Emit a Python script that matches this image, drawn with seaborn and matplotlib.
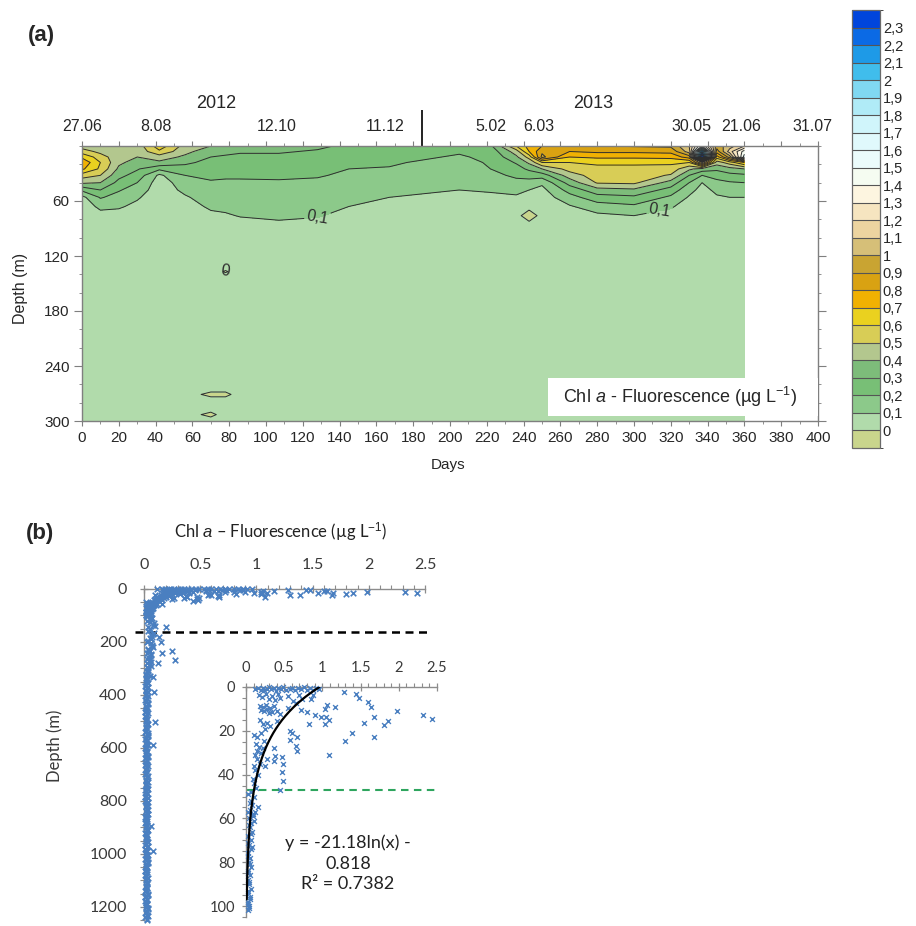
import numpy as np
import pandas as pd
import matplotlib
matplotlib.use("Agg")
import matplotlib.pyplot as plt
from matplotlib.colors import ListedColormap, BoundaryNorm
from matplotlib.ticker import MultipleLocator, FixedLocator, FuncFormatter
from matplotlib.patches import Rectangle
import seaborn as sns

sns.set_style("ticks")
plt.rcParams["font.family"] = ["Liberation Sans", "DejaVu Sans"]
plt.rcParams["mathtext.fontset"] = "custom"
plt.rcParams["mathtext.rm"] = "Liberation Sans"
plt.rcParams["mathtext.it"] = "Liberation Sans:italic"

# ---------------- (a) time-depth section of Chl a fluorescence ----------------
section_days = [0, 10, 20, 30, 42, 56, 70, 78, 86, 107, 128, 145, 167, 186,
                205, 222, 236, 243, 250, 265, 280, 300, 320, 330, 337, 345, 352, 360]
upper_depths = [0, 6, 12, 18, 25, 32, 40, 48, 56, 66, 76, 86, 100]
# one profile (µg L-1 at upper_depths) per sampling day
upper_profiles = [
    [0.45, 0.55, 0.68, 0.78, 0.72, 0.55, 0.42, 0.22, 0.07, 0.05, 0.05, 0.05, 0.05],
    [0.43, 0.47, 0.55, 0.60, 0.58, 0.50, 0.40, 0.30, 0.21, 0.12, 0.07, 0.05, 0.05],
    [0.42, 0.42, 0.43, 0.42, 0.38, 0.33, 0.27, 0.21, 0.16, 0.11, 0.07, 0.05, 0.05],
    [0.44, 0.43, 0.40, 0.36, 0.31, 0.26, 0.20, 0.15, 0.11, 0.08, 0.05, 0.05, 0.05],
    [0.66, 0.58, 0.45, 0.38, 0.22, 0.08, 0.05, 0.05, 0.05, 0.05, 0.05, 0.05, 0.05],
    [0.46, 0.43, 0.38, 0.32, 0.26, 0.20, 0.15, 0.12, 0.09, 0.06, 0.05, 0.05, 0.05],
    [0.40, 0.34, 0.30, 0.27, 0.24, 0.22, 0.19, 0.16, 0.14, 0.115, 0.08, 0.05, 0.05],
    [0.37, 0.32, 0.29, 0.26, 0.23, 0.21, 0.19, 0.17, 0.15, 0.12, 0.09, 0.05, 0.05],
    [0.35, 0.31, 0.28, 0.25, 0.23, 0.21, 0.19, 0.17, 0.15, 0.13, 0.105, 0.07, 0.05],
    [0.33, 0.31, 0.28, 0.25, 0.23, 0.215, 0.19, 0.17, 0.15, 0.13, 0.11, 0.09, 0.05],
    [0.32, 0.29, 0.26, 0.24, 0.22, 0.21, 0.18, 0.16, 0.14, 0.12, 0.105, 0.08, 0.05],
    [0.28, 0.26, 0.24, 0.22, 0.20, 0.18, 0.16, 0.14, 0.12, 0.10, 0.08, 0.06, 0.05],
    [0.26, 0.25, 0.23, 0.21, 0.195, 0.17, 0.15, 0.13, 0.10, 0.07, 0.05, 0.05, 0.05],
    [0.25, 0.23, 0.21, 0.19, 0.17, 0.15, 0.13, 0.11, 0.09, 0.07, 0.05, 0.05, 0.05],
    [0.23, 0.21, 0.19, 0.17, 0.16, 0.14, 0.12, 0.10, 0.08, 0.06, 0.05, 0.05, 0.05],
    [0.28, 0.24, 0.22, 0.21, 0.20, 0.17, 0.14, 0.11, 0.08, 0.06, 0.05, 0.05, 0.05],
    [0.60, 0.45, 0.38, 0.31, 0.26, 0.22, 0.17, 0.12, 0.09, 0.06, 0.05, 0.05, 0.05],
    [0.74, 0.70, 0.54, 0.42, 0.32, 0.24, 0.16, 0.10, 0.07, 0.05, -0.08, 0.05, 0.05],
    [0.80, 0.88, 0.93, 0.60, 0.40, 0.25, 0.12, 0.07, 0.05, 0.05, 0.05, 0.05, 0.05],
    [0.88, 0.80, 0.70, 0.60, 0.54, 0.45, 0.34, 0.24, 0.16, 0.09, 0.05, 0.05, 0.05],
    [0.90, 0.82, 0.72, 0.62, 0.57, 0.55, 0.51, 0.36, 0.26, 0.15, 0.08, 0.05, 0.05],
    [0.91, 0.82, 0.72, 0.62, 0.57, 0.55, 0.52, 0.38, 0.28, 0.18, 0.10, 0.06, 0.05],
    [0.92, 0.83, 0.73, 0.62, 0.56, 0.49, 0.36, 0.26, 0.18, 0.11, 0.07, 0.05, 0.05],
    [1.10, 1.05, 0.85, 0.60, 0.42, 0.30, 0.20, 0.13, 0.09, 0.06, 0.05, 0.05, 0.05],
    [1.50, 2.10, 2.45, 1.00, 0.36, 0.20, 0.10, 0.07, 0.05, 0.05, 0.05, 0.05, 0.05],
    [0.95, 0.85, 0.65, 0.45, 0.32, 0.24, 0.17, 0.12, 0.09, 0.06, 0.05, 0.05, 0.05],
    [1.05, 1.15, 0.95, 0.55, 0.36, 0.27, 0.19, 0.13, 0.10, 0.07, 0.05, 0.05, 0.05],
    [1.20, 1.45, 1.55, 0.70, 0.40, 0.28, 0.20, 0.14, 0.10, 0.07, 0.05, 0.05, 0.05],
]
deep_depths = [130, 137, 144, 200, 264, 271, 278, 286, 293, 300]
deep_background = 0.05
# (day, depth, value) of the small negative patches below the mixed layer
deep_patches = [(78, 137, -0.01), (70, 271, -0.03), (78, 271, -0.03), (70, 293, -0.03)]

contour_levels = [0.0, 0.1, 0.2, 0.3, 0.4, 0.5, 0.6, 0.7, 0.8, 0.9, 1.0, 1.1,
                  1.2, 1.3, 1.4, 1.5, 1.6, 1.7, 1.8, 1.9, 2.0, 2.1, 2.2, 2.3]
level_colors = ["#c9d58c", "#b1dbab", "#8cc98a", "#78bf76", "#7dbc7a", "#b3c78e",
                "#d8cd56", "#ead11f", "#f1b102", "#d9a212", "#c9a432", "#d6bf78",
                "#ecd4a0", "#f6e5c0", "#fdf5e0", "#f5fcf1", "#ebfbfb", "#e0f9fc",
                "#d0f5fb", "#b0ebf7", "#80d8f2", "#40bdec", "#1e9ae7", "#0b6ae5",
                "#0045dc"]

date_labels = ["27.06", "8.08", "12.10", "11.12", "5.02", "6.03", "30.05", "21.06", "31.07"]
date_label_days = [0, 40, 106, 165, 222, 248, 331, 358, 397]
year_labels = ["2012", "2013"]
year_label_days = [73, 278]
year_break_day = 185

# ---------------- (b) fluorescence vs depth scatter ----------------
shallow_chl = [
    0.12, 0.16, 0.19, 0.22, 0.24, 0.27, 0.30, 0.33, 0.36, 0.39, 0.42, 0.46, 0.49,
    0.53, 0.57, 0.60, 0.64, 0.68, 0.72, 0.76, 0.80, 0.84, 0.88, 0.92, 0.96,
    0.17, 0.21, 0.26, 0.30, 0.34, 0.38, 0.42, 0.45, 0.55, 0.69, 0.73, 0.85, 0.88,
    1.28, 1.44, 1.48, 0.62,
    0.18, 0.20, 0.22, 0.24, 0.26, 0.28, 0.30, 0.32, 0.34, 0.36, 0.40, 0.44, 0.55,
    0.66, 0.72, 0.80, 1.04, 1.06, 1.16, 0.98, 1.05, 1.60, 1.63, 1.68, 1.98, 2.32,
    2.43, 0.90,
    0.18, 0.22, 0.25, 0.20, 0.28, 0.15, 0.10, 0.32, 0.23, 0.58, 0.60, 0.57, 0.67,
    0.82, 1.04, 1.09, 1.55, 1.80, 1.86, 1.67, 1.39, 1.30, 0.40,
    0.13, 0.17, 0.15, 0.20, 0.12, 0.14, 0.18, 0.10, 0.12, 0.16, 0.09, 0.11, 0.13,
    0.25, 0.27, 0.36, 0.38, 0.37, 0.66, 0.67, 0.47, 0.49, 0.47, 0.48, 0.44, 1.08,
    0.22,
    0.07, 0.10, 0.06, 0.08, 0.16, 0.05, 0.09, 0.04, 0.07, 0.05, 0.08, 0.03, 0.06,
    0.04, 0.07, 0.03, 0.05, 0.04, 0.06, 0.03, 0.05, 0.02, 0.04, 0.06, 0.03, 0.05,
    0.02, 0.04, 0.03, 0.12, 0.11,
    0.02, 0.05, 0.03, 0.09, 0.04, 0.06, 0.02, 0.08, 0.03, 0.05, 0.02, 0.04, 0.03,
    0.05, 0.02, 0.04,
]
shallow_depth = [
    1.0, 0.5, 1.2, 0.3, 1.5, 0.8, 0.2, 1.1, 0.6, 1.6, 0.4, 1.0, 0.2,
    1.3, 0.7, 0.3, 1.4, 0.5, 1.0, 0.2, 1.2, 0.6, 1.5, 0.4, 1.0,
    3.5, 4.5, 3.0, 5.5, 4.0, 6.0, 3.2, 5.0, 4.2, 3.6, 5.6, 5.4, 3.5,
    2.4, 3.4, 4.8, 6.5,
    8.5, 10.5, 9.0, 11.0, 8.0, 10.0, 12.0, 9.5, 11.5, 8.8, 10.8, 12.5, 9.4,
    7.5, 10.5, 11.5, 10.0, 8.0, 9.2, 13.5, 13.5, 7.0, 9.0, 13.5, 10.9, 12.9,
    14.7, 12.8,
    15.0, 17.0, 19.0, 21.0, 16.5, 23.0, 22.0, 18.0, 24.5, 20.0, 21.0, 24.0, 23.0,
    17.0, 17.0, 15.0, 16.4, 17.5, 15.3, 22.7, 21.0, 24.5, 15.5,
    26, 27.5, 29, 30, 31, 33, 35, 36, 38, 40, 42, 44, 46,
    36, 33, 34, 31.6, 28, 27, 29, 32, 35, 39, 43, 47, 31.2,
    28,
    48, 50, 52, 54, 55, 56, 58, 60, 62, 64, 66, 68, 70,
    72, 74, 76, 78, 80, 82, 84, 86, 88, 90, 92, 94, 96,
    98, 100, 102, 57, 61,
    49, 53, 57, 59, 63, 67, 71, 73, 77, 81, 85, 89, 93,
    97, 99, 101,
]
# four deep casts below 100 m
deep_depth_a = [110, 130, 150, 170, 190, 210, 230, 250, 270, 290, 310, 330, 350, 370,
                390, 410, 430, 450, 470, 490, 510, 530, 550, 570, 590, 610, 630, 650,
                670, 690, 710, 730, 750, 770, 790, 810, 830, 850, 870, 890, 910, 930,
                950, 970, 990, 1010, 1030, 1050, 1070, 1090, 1110, 1130, 1150, 1170,
                1190, 1210, 1230, 1250]
deep_chl_a = [0.07, 0.09, 0.05, 0.08, 0.06, 0.07, 0.04, 0.06, 0.05, 0.06,
              0.04, 0.05, 0.03, 0.04, 0.04, 0.03, 0.04, 0.03, 0.04, 0.03,
              0.04, 0.03, 0.04, 0.03, 0.04, 0.03, 0.04, 0.03, 0.04, 0.03,
              0.03, 0.04, 0.03, 0.03, 0.04, 0.03, 0.03, 0.04, 0.03, 0.03,
              0.04, 0.03, 0.03, 0.04, 0.03, 0.03, 0.04, 0.03, 0.03, 0.04,
              0.03, 0.03, 0.04, 0.03, 0.03, 0.04, 0.03, 0.03]
deep_depth_b = [120, 140, 160, 180, 200, 220, 240, 260, 280, 300, 320, 340, 360, 380,
                400, 420, 440, 460, 480, 500, 520, 540, 560, 580, 600, 620, 640, 660,
                680, 700, 720, 740, 760, 780, 800, 820, 840, 860, 880, 900, 920, 940,
                960, 980, 1000, 1020, 1040, 1060, 1080, 1100, 1120, 1140, 1160, 1180,
                1200, 1220, 1240]
deep_chl_b = [0.03, 0.10, 0.04, 0.07, 0.03, 0.08, 0.03, 0.05, 0.03, 0.04,
              0.02, 0.03, 0.02, 0.02, 0.02, 0.01, 0.02, 0.02, 0.01, 0.02,
              0.02, 0.01, 0.02, 0.02, 0.01, 0.02, 0.01, 0.02, 0.02, 0.01,
              0.02, 0.02, 0.01, 0.02, 0.01, 0.02, 0.02, 0.01, 0.02, 0.02,
              0.01, 0.02, 0.02, 0.01, 0.02, 0.01, 0.02, 0.02, 0.01, 0.02,
              0.02, 0.01, 0.02, 0.01, 0.02, 0.02, 0.01]
deep_depth_c = [115, 135, 155, 175, 195, 215, 235, 255, 275, 295, 315, 335, 355, 375,
                395, 415, 435, 455, 475, 495, 515, 535, 555, 575, 595, 615, 635, 655,
                675, 695, 715, 735, 755, 775, 795, 815, 835, 855, 875, 895, 915, 935,
                955, 975, 995, 1015, 1035, 1055, 1075, 1095, 1115, 1135, 1155, 1175,
                1195, 1215, 1235]
deep_chl_c = [0.06, 0.08, 0.05, 0.06, 0.04, 0.07, 0.05, 0.04, 0.06, 0.03,
              0.03, 0.02, 0.04, 0.03, 0.02, 0.03, 0.04, 0.02, 0.03, 0.02,
              0.03, 0.02, 0.04, 0.03, 0.02, 0.03, 0.04, 0.02, 0.03, 0.02,
              0.03, 0.02, 0.04, 0.03, 0.02, 0.03, 0.04, 0.02, 0.03, 0.02,
              0.03, 0.02, 0.04, 0.03, 0.02, 0.03, 0.04, 0.02, 0.03, 0.02,
              0.03, 0.02, 0.04, 0.03, 0.02, 0.03, 0.04]
deep_depth_d = [125, 145, 165, 185, 205, 225, 245, 265, 285, 305, 325, 345, 365, 385,
                405, 425, 445, 465, 485, 505, 525, 545, 565, 585, 605, 625, 645, 665,
                685, 705, 725, 745, 765, 785, 805, 825, 845, 865, 885, 905, 925, 945,
                965, 985, 1005, 1025, 1045, 1065, 1085, 1105, 1125, 1145, 1165, 1185,
                1205, 1225, 1245]
deep_chl_d = [0.05, 0.04, 0.09, 0.05, 0.06, 0.04, 0.06, 0.03, 0.05, 0.04,
              0.02, 0.03, 0.01, 0.02, 0.04, 0.02, 0.03, 0.01, 0.02, 0.03,
              0.02, 0.04, 0.01, 0.03, 0.02, 0.02, 0.03, 0.01, 0.02, 0.04,
              0.02, 0.03, 0.02, 0.01, 0.04, 0.02, 0.03, 0.02, 0.01, 0.03,
              0.02, 0.03, 0.01, 0.02, 0.04, 0.03, 0.02, 0.01, 0.02, 0.03,
              0.02, 0.03, 0.01, 0.02, 0.04, 0.02, 0.03]
outlier_chl = [0.20, 0.16, 0.25, 0.28, 0.125, 0.08, 0.09, 0.10, 0.08, 0.06, 0.08, 0.15, 0.13]
outlier_depth = [143, 241, 234, 268, 279, 332, 389, 502, 589, 894, 988, 200, 180]

fit_slope, fit_intercept, fit_r2 = -21.18, -0.818, 0.7382
deep_limit_depth = 162
inset_limit_depth = 47

# ---------------- figure ----------------
W, H = 916, 926
fig = plt.figure(figsize=(W / 100, H / 100), dpi=100)


def px_box(left, top, right, bottom):
    return [left / W, 1 - bottom / H, (right - left) / W, (bottom - top) / H]


SPINE = "#7f7f7f"
LINE_KW = dict(colors="#2e2e2e", linewidths=0.7)

# ---- panel (a) ----
ax = fig.add_axes(px_box(82, 146, 818, 421))
depth_grid = list(upper_depths) + list(deep_depths)
deep_block = np.full((len(deep_depths), len(section_days)), deep_background)
for day, dep, val in deep_patches:
    deep_block[deep_depths.index(dep), section_days.index(day)] = val
Z = np.vstack([np.array(upper_profiles).T, deep_block])
X, Y = np.meshgrid(section_days, depth_grid)

fill_levels = [-1.0] + contour_levels + [3.0]
cmap = ListedColormap(level_colors)
norm = BoundaryNorm(fill_levels, cmap.N)
cf = ax.contourf(X, Y, Z, levels=fill_levels, cmap=cmap, norm=norm)
ax.contour(X, Y, Z, levels=contour_levels[2:], **LINE_KW)
cl_01 = ax.contour(X, Y, Z, levels=[contour_levels[1]], **LINE_KW)
cl_00 = ax.contour(X, Y, Z, levels=[contour_levels[0]], **LINE_KW)


def comma_fmt(v):
    return f"{v:g}".replace(".", ",")


ax.clabel(cl_01, manual=[(128, 77), (314, 70)], inline=True,
          fmt=comma_fmt, fontsize=11.5, inline_spacing=4)
ax.clabel(cl_00, manual=[(78, 137)], inline=False, fmt=comma_fmt, fontsize=11.5)

ax.set_xlim(0, 400)
ax.set_ylim(300, 0)
ax.xaxis.set_major_locator(MultipleLocator(20))
ax.xaxis.set_minor_locator(MultipleLocator(10))
ax.yaxis.set_major_locator(FixedLocator([60, 120, 180, 240, 300]))
ax.yaxis.set_minor_locator(MultipleLocator(20))
ax.tick_params(axis="x", which="both", top=True, bottom=True, labeltop=False,
               direction="out", color=SPINE, labelsize=11, pad=4)
ax.tick_params(axis="x", which="major", length=3.5)
ax.tick_params(axis="x", which="minor", length=2)
ax.tick_params(axis="y", which="both", left=True, right=True, labelright=False,
               direction="out", color=SPINE, labelsize=11, pad=3)
ax.tick_params(axis="y", which="major", length=6)
ax.tick_params(axis="y", which="minor", length=2.5)
for sp in ax.spines.values():
    sp.set_color(SPINE)
    sp.set_linewidth(1.0)
ax.set_facecolor("white")

for lab, d in zip(date_labels, date_label_days):
    ax.text(d, -21, lab, ha="center", va="center", fontsize=11.5, clip_on=False)
for lab, d in zip(year_labels, year_label_days):
    ax.text(d, -46, lab, ha="center", va="center", fontsize=13, clip_on=False)
ax.plot([year_break_day, year_break_day], [-39, 0], color="#222222", lw=1.4,
        clip_on=False, solid_capstyle="butt")

ax.add_patch(Rectangle((253, 253), 147, 42, facecolor="white", edgecolor="none", zorder=3))
ax.text(325, 274, r"Chl $\mathit{a}$ - Fluorescence (µg L$^{\mathrm{-1}}$)",
        ha="center", va="center", fontsize=13, zorder=4)

fig.text(448 / W, 1 - 465 / H, "Days", ha="center", va="center", fontsize=11)
fig.text(21 / W, 1 - 288 / H, "Depth (m)", ha="center", va="center",
         rotation=90, fontsize=11.5)
fig.text(41 / W, 1 - 36 / H, "(a)", ha="center", va="center", fontsize=16,
         fontweight="bold")

cax = fig.add_axes(px_box(852, 10, 880, 448))
cb = fig.colorbar(cf, cax=cax, spacing="uniform", ticks=contour_levels, drawedges=True)
cb.ax.set_yticklabels([comma_fmt(v) for v in contour_levels])
cb.ax.tick_params(length=0, labelsize=10.5, pad=2)
cb.outline.set_edgecolor("#6a6a6a")
cb.outline.set_linewidth(0.9)
cb.dividers.set_color("#555555")
cb.dividers.set_linewidth(0.8)

# ---- panel (b) ----
B_FONT = ["Lato", "DejaVu Sans"]
B_TEXT = "#3a3a3a"
MARK = "#4a7fc0"

profile_df = pd.DataFrame({
    "chl": shallow_chl + deep_chl_a + deep_chl_b + deep_chl_c + deep_chl_d + outlier_chl,
    "depth": (shallow_depth + deep_depth_a + deep_depth_b + deep_depth_c
              + deep_depth_d + outlier_depth),
})
inset_df = pd.DataFrame({"chl": shallow_chl, "depth": shallow_depth})
fit_x = np.geomspace(0.0099, 0.962, 200)
fit_df = pd.DataFrame({"chl": fit_x, "depth": fit_slope * np.log(fit_x) + fit_intercept})


def excel_axes(a, xmaj, xmin, ymaj, ymin, size):
    a.xaxis.tick_top()
    a.xaxis.set_major_locator(MultipleLocator(xmaj))
    a.xaxis.set_minor_locator(MultipleLocator(xmin))
    a.yaxis.set_major_locator(MultipleLocator(ymaj))
    a.yaxis.set_minor_locator(MultipleLocator(ymin))
    a.xaxis.set_major_formatter(FuncFormatter(lambda v, p: f"{v:g}"))
    a.yaxis.set_major_formatter(FuncFormatter(lambda v, p: f"{v:g}"))
    for side in ("right", "bottom"):
        a.spines[side].set_visible(False)
    for side in ("left", "top"):
        a.spines[side].set_color("#8c8c8c")
        a.spines[side].set_linewidth(1.0)
    a.tick_params(which="major", direction="inout", length=6, width=0.9,
                  color="#8c8c8c", labelsize=size, labelcolor=B_TEXT)
    a.tick_params(which="minor", direction="out", length=3, width=0.8, color="#8c8c8c")
    a.set_xlabel("")
    a.set_ylabel("")
    for t in a.get_xticklabels() + a.get_yticklabels():
        t.set_fontfamily(B_FONT)


bx = fig.add_axes(px_box(144, 589, 425, 920))
bx.set_facecolor("none")
sns.scatterplot(data=profile_df, x="chl", y="depth", ax=bx, marker="x", color=MARK,
                s=16, linewidth=1.2, clip_on=False, legend=False, zorder=3)
bx.plot([-0.08, 2.56], [deep_limit_depth, deep_limit_depth], color="black", lw=1.8,
        dashes=(3.2, 2.2), clip_on=False)
bx.set_xlim(0, 2.5)
bx.set_ylim(1250, 0)
excel_axes(bx, 0.5, 0.1, 200, 50, 11.5)
bx.tick_params(axis="x", which="major", pad=9)
bx.tick_params(axis="y", which="major", pad=9)

ix = fig.add_axes(px_box(246, 687, 437, 917))
ix.set_facecolor("none")
sns.scatterplot(data=inset_df, x="chl", y="depth", ax=ix, marker="x", color=MARK,
                s=12, linewidth=1.0, clip_on=False, legend=False, zorder=3)
sns.lineplot(data=fit_df, x="chl", y="depth", ax=ix, color="black", lw=1.6,
             sort=False, estimator=None, zorder=4)
ix.plot([0, 2.5], [inset_limit_depth, inset_limit_depth], color="#2ea55e", lw=1.5,
        dashes=(3.6, 2.6), zorder=2)
ix.set_xlim(0, 2.5)
ix.set_ylim(105, 0)
excel_axes(ix, 0.5, 0.1, 20, 5, 10.5)
ix.tick_params(axis="x", which="major", pad=6)
ix.tick_params(axis="y", which="major", pad=5)
ix.text(1.335, 80.5, f"y = {fit_slope}ln(x) -\n{abs(fit_intercept)}\nR² = {fit_r2}",
        ha="center", va="center", multialignment="center", fontsize=13,
        linespacing=1.35, color="#222222", family=B_FONT)

fig.text(281 / W, 1 - 532 / H,
         r"Chl $\mathit{a}$ – Fluorescence (µg L$^{\mathrm{-1}}$)",
         ha="center", va="center", fontsize=12, color="#222222", family=B_FONT)
fig.text(55 / W, 1 - 746 / H, "Depth (m)", ha="center", va="center", rotation=90,
         fontsize=12, color=B_TEXT, family=B_FONT)
fig.text(40 / W, 1 - 533 / H, "(b)", ha="center", va="center", fontsize=16,
         fontweight="bold")

fig.savefig("out.png", dpi=100, facecolor="white")
